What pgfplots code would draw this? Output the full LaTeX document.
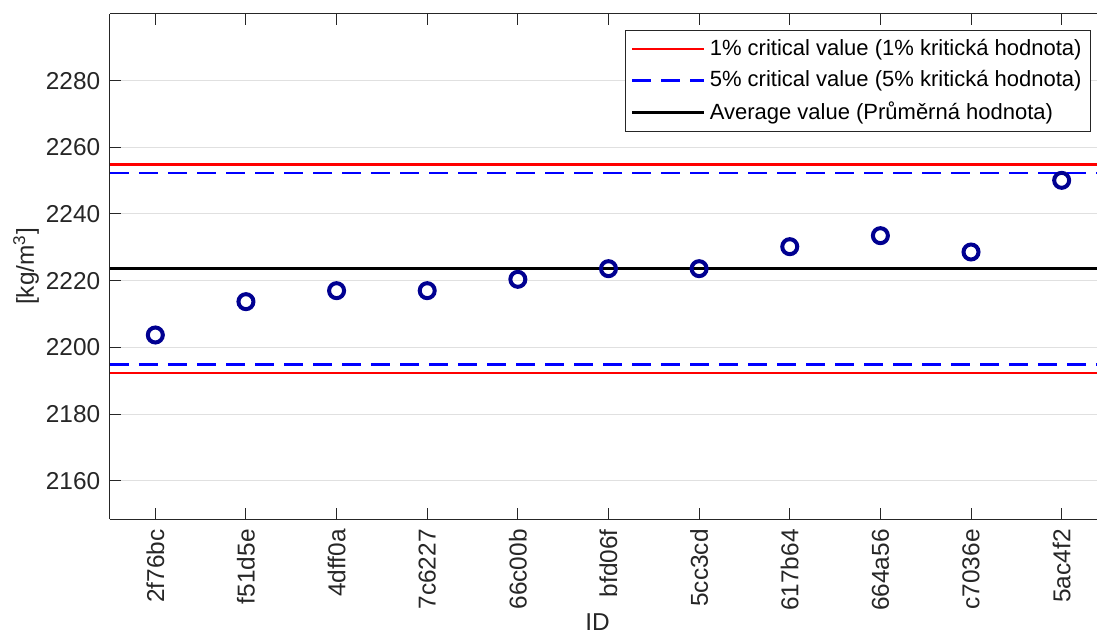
\documentclass[border=0pt]{standalone}
\usepackage{fontspec}
\setmainfont{Liberation Sans}
\usepackage{pgfplots}
\pgfplotsset{compat=1.18}
\definecolor{mkblue}{RGB}{0,0,145}
\definecolor{axgray}{gray}{0.15}
\definecolor{gridgray}{gray}{0.88}

\begin{document}
\begin{tikzpicture}
\begin{axis}[
  scale only axis,
  width=493.5pt, height=252.5pt,
  xmin=0.5, xmax=11.39,
  ymin=2148.5, ymax=2300,
  axis x line*=box, axis y line*=left,
  axis line style={axgray, line width=0.5pt},
  every tick/.style={axgray, line width=0.5pt},
  tick align=inside,
  major tick length=5.3pt,
  xtick={1,...,11},
  xticklabels={2f76bc,f51d5e,4dff0a,7c6227,66c00b,bfd06f,5cc3cd,617b64,664a56,c7036e,5ac4f2},
  xtick pos=both,
  ytick={2160,2180,...,2280},
  ytick pos=left,
  ymajorgrids,
  major grid style={gridgray, line width=0.5pt},
  font=\fontsize{12.2}{14}\selectfont,
  /pgf/number format/assume math mode=true,
  /pgf/number format/1000 sep={},
  ticklabel style={text=axgray},
  xticklabel style={rotate=90, anchor=east, inner sep=0pt, xshift=-5pt},
  yticklabel style={inner sep=0pt, xshift=-4.7pt},
  xlabel={ID},
  ylabel={[kg/m\textsuperscript{3}]},
  label style={text=axgray},
  xlabel style={at={(ticklabel cs:0.5)}, yshift=2pt, xshift=-3pt},
  ylabel style={yshift=0pt},
  legend style={at={(1,1)}, anchor=north east, xshift=-3pt, yshift=-8pt,
    draw=axgray, line width=0.5pt, fill=white, inner sep=2.5pt,
    row sep=2pt, font=\fontsize{11}{13}\selectfont,
    legend cell align=left},
  legend image code/.code={\draw[#1] (0pt,0pt) -- (36pt,0pt);},
]
\addplot[red, line width=1.3pt] coordinates {(0.5,2254.8) (11.39,2254.8)};
\addlegendentry{1\% critical value (1\% kritická hodnota)}
\addplot[blue, line width=1.4pt, dash pattern=on 9.5pt off 5pt] coordinates {(0.5,2252.3) (11.39,2252.3)};
\addlegendentry{5\% critical value (5\% kritická hodnota)}
\addplot[black, line width=1.3pt] coordinates {(0.5,2223.6) (11.39,2223.6)};
\addlegendentry{Average value (Průměrná hodnota)}
\addplot[red, line width=1.3pt, forget plot] coordinates {(0.5,2192.3) (11.39,2192.3)};
\addplot[blue, line width=1.4pt, dash pattern=on 9.5pt off 5pt, forget plot] coordinates {(0.5,2194.9) (11.39,2194.9)};
\addplot[only marks, mark=o, mark size=3.75pt, mkblue, line width=2pt, forget plot] coordinates {
  (1,2203.7) (2,2213.7) (3,2217.0) (4,2217.0) (5,2220.4) (6,2223.6)
  (7,2223.6) (8,2230.2) (9,2233.5) (10,2228.6) (11,2250.1)
};
\end{axis}
\pgfresetboundingbox
\path (-55pt,-59pt) rectangle (493.5pt,259.5pt);
\end{tikzpicture}
\end{document}
